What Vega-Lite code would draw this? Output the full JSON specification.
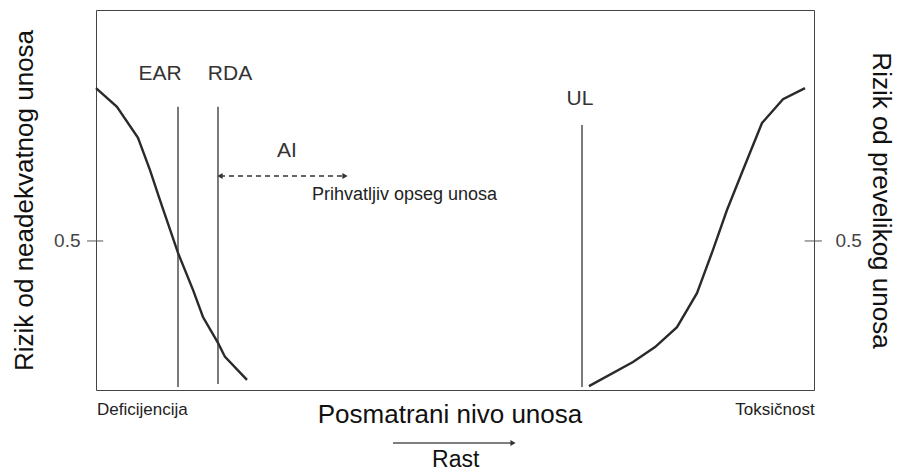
{
  "$schema": "https://vega.github.io/schema/vega-lite/v6.json",
  "width": 718,
  "height": 380,
  "autosize": {"type": "none"},
  "padding": {"left": 96, "top": 10, "right": 84, "bottom": 82},
  "background": "white",
  "config": {"view": {"stroke": "#444", "strokeWidth": 1}, "font": "Liberation Sans"},
  "datasets": {
    "deficit": [
      {"x": 0, "y": 1.013}, {"x": 2.92, "y": 0.95}, {"x": 5.85, "y": 0.846}, {"x": 7.52, "y": 0.738},
      {"x": 8.91, "y": 0.637}, {"x": 11.42, "y": 0.46}, {"x": 13.51, "y": 0.336}, {"x": 14.9, "y": 0.245},
      {"x": 16.99, "y": 0.158}, {"x": 17.97, "y": 0.111}, {"x": 21.03, "y": 0.034}
    ],
    "excess": [
      {"x": 68.66, "y": 0.013}, {"x": 74.79, "y": 0.094}, {"x": 77.86, "y": 0.144}, {"x": 80.92, "y": 0.211},
      {"x": 83.7, "y": 0.325}, {"x": 85.93, "y": 0.47}, {"x": 87.88, "y": 0.604}, {"x": 90.11, "y": 0.738},
      {"x": 92.76, "y": 0.896}, {"x": 95.68, "y": 0.976}, {"x": 98.75, "y": 1.013}
    ],
    "levels": [
      {"name": "EAR", "x": 11.42, "y0": 0.01, "y1": 0.95},
      {"name": "RDA", "x": 16.99, "y0": 0.02, "y1": 0.95},
      {"name": "UL", "x": 67.69, "y0": 0.01, "y1": 0.889}
    ],
    "ticks": [
      {"side": "left", "x0": -1.25, "x1": 1.0, "y": 0.5},
      {"side": "right", "x0": 98.7, "x1": 101.1, "y": 0.5}
    ],
    "arrows": [
      {"arrow": "AI", "x0": 17.27, "x1": 34.68, "y": 0.718},
      {"arrow": "Rast", "x0": 41.36, "x1": 58.08, "y": -0.178}
    ],
    "heads": [
      {"arrow": "AI", "x": 17.27, "y": 0.718, "dir": "triangle-left"},
      {"arrow": "AI", "x": 34.68, "y": 0.718, "dir": "triangle-right"},
      {"arrow": "Rast", "x": 58.08, "y": -0.178, "dir": "triangle-right"}
    ],
    "labels": [
      {"role": "marker", "label": "EAR", "x": 8.91, "y": 1.04},
      {"role": "marker", "label": "RDA", "x": 18.66, "y": 1.04},
      {"role": "marker", "label": "UL", "x": 67.41, "y": 0.956},
      {"role": "marker", "label": "AI", "x": 26.6, "y": 0.782},
      {"role": "note", "label": "Prihvatljiv opseg unosa", "x": 30.08, "y": 0.6375},
      {"role": "startend", "label": "Deficijencija", "x": 0.14, "y": -0.084},
      {"role": "endend", "label": "Toksičnost", "x": 100.1, "y": -0.084},
      {"role": "xtitle", "label": "Posmatrani nivo unosa", "x": 49.3, "y": -0.111},
      {"role": "rast", "label": "Rast", "x": 50.1, "y": -0.258}
    ]
  },
  "layer": [
    {
      "data": {"name": "deficit"},
      "mark": {"type": "line", "stroke": "#2a2a2a", "strokeWidth": 2.4},
      "encoding": {
        "x": {"field": "x", "type": "quantitative", "scale": {"domain": [0, 100], "nice": false, "zero": false}, "axis": null},
        "y": {"field": "y", "type": "quantitative", "scale": {"domain": [0, 1.275], "nice": false, "zero": false},
          "axis": {"orient": "left", "values": [0.5], "format": ".1f", "ticks": false, "domain": false, "grid": false,
            "labelPadding": 16, "labelFontSize": 19, "labelColor": "#444", "labelFont": "Liberation Sans",
            "title": "Rizik od neadekvatnog unosa", "titleFontSize": 26, "titleFontWeight": "normal", "titleColor": "#111",
            "titleFont": "Liberation Sans", "titlePadding": 16}}
      }
    },
    {
      "data": {"name": "excess"},
      "mark": {"type": "line", "stroke": "#2a2a2a", "strokeWidth": 2.4},
      "encoding": {
        "x": {"field": "x", "type": "quantitative", "scale": {"domain": [0, 100], "nice": false, "zero": false}, "axis": null},
        "y": {"field": "y", "type": "quantitative", "scale": {"domain": [0, 1.275], "nice": false, "zero": false},
          "axis": {"orient": "right", "values": [0.5], "format": ".1f", "ticks": false, "domain": false, "grid": false,
            "labelPadding": 21, "labelFontSize": 19, "labelColor": "#444", "labelFont": "Liberation Sans",
            "title": "Rizik od prevelikog unosa", "titleFontSize": 26, "titleFontWeight": "normal", "titleColor": "#111",
            "titleFont": "Liberation Sans", "titlePadding": 6}}
      }
    },
    {
      "data": {"name": "levels"},
      "mark": {"type": "rule", "stroke": "#333", "strokeWidth": 1.3},
      "encoding": {
        "x": {"field": "x", "type": "quantitative", "scale": {"domain": [0, 100], "nice": false, "zero": false}, "axis": null},
        "y": {"field": "y0", "type": "quantitative", "scale": {"domain": [0, 1.275], "nice": false, "zero": false}, "axis": null},
        "y2": {"field": "y1"}
      }
    },
    {
      "data": {"name": "ticks"},
      "mark": {"type": "rule", "stroke": "#555", "strokeWidth": 1},
      "encoding": {
        "x": {"field": "x0", "type": "quantitative", "scale": {"domain": [0, 100], "nice": false, "zero": false}, "axis": null},
        "x2": {"field": "x1"},
        "y": {"field": "y", "type": "quantitative", "scale": {"domain": [0, 1.275], "nice": false, "zero": false}, "axis": null}
      }
    },
    {
      "data": {"name": "arrows"},
      "transform": [{"filter": "datum.arrow === 'AI'"}],
      "mark": {"type": "rule", "stroke": "#333", "strokeWidth": 1.6, "strokeDash": [5, 4]},
      "encoding": {
        "x": {"field": "x0", "type": "quantitative", "scale": {"domain": [0, 100], "nice": false, "zero": false}, "axis": null},
        "x2": {"field": "x1"},
        "y": {"field": "y", "type": "quantitative", "scale": {"domain": [0, 1.275], "nice": false, "zero": false}, "axis": null}
      }
    },
    {
      "data": {"name": "arrows"},
      "transform": [{"filter": "datum.arrow === 'Rast'"}],
      "mark": {"type": "rule", "stroke": "#555", "strokeWidth": 1.6},
      "encoding": {
        "x": {"field": "x0", "type": "quantitative", "scale": {"domain": [0, 100], "nice": false, "zero": false}, "axis": null},
        "x2": {"field": "x1"},
        "y": {"field": "y", "type": "quantitative", "scale": {"domain": [0, 1.275], "nice": false, "zero": false}, "axis": null}
      }
    },
    {
      "data": {"name": "heads"},
      "mark": {"type": "point", "filled": true, "color": "#333", "size": 36, "opacity": 1},
      "encoding": {
        "x": {"field": "x", "type": "quantitative", "scale": {"domain": [0, 100], "nice": false, "zero": false}, "axis": null},
        "y": {"field": "y", "type": "quantitative", "scale": {"domain": [0, 1.275], "nice": false, "zero": false}, "axis": null},
        "shape": {"field": "dir", "type": "nominal", "scale": null, "legend": null}
      }
    },
    {
      "data": {"name": "labels"},
      "transform": [{"filter": "datum.role === 'marker'"}],
      "mark": {"type": "text", "fontSize": 21, "align": "center", "baseline": "alphabetic", "color": "#333"},
      "encoding": {
        "x": {"field": "x", "type": "quantitative", "scale": {"domain": [0, 100], "nice": false, "zero": false}, "axis": null},
        "y": {"field": "y", "type": "quantitative", "scale": {"domain": [0, 1.275], "nice": false, "zero": false}, "axis": null},
        "text": {"field": "label"}
      }
    },
    {
      "data": {"name": "labels"},
      "transform": [{"filter": "datum.role === 'note'"}],
      "mark": {"type": "text", "fontSize": 18, "align": "left", "baseline": "alphabetic", "color": "#222"},
      "encoding": {
        "x": {"field": "x", "type": "quantitative", "scale": {"domain": [0, 100], "nice": false, "zero": false}, "axis": null},
        "y": {"field": "y", "type": "quantitative", "scale": {"domain": [0, 1.275], "nice": false, "zero": false}, "axis": null},
        "text": {"field": "label"}
      }
    },
    {
      "data": {"name": "labels"},
      "transform": [{"filter": "datum.role === 'startend'"}],
      "mark": {"type": "text", "fontSize": 17, "align": "left", "baseline": "alphabetic", "color": "#222"},
      "encoding": {
        "x": {"field": "x", "type": "quantitative", "scale": {"domain": [0, 100], "nice": false, "zero": false}, "axis": null},
        "y": {"field": "y", "type": "quantitative", "scale": {"domain": [0, 1.275], "nice": false, "zero": false}, "axis": null},
        "text": {"field": "label"}
      }
    },
    {
      "data": {"name": "labels"},
      "transform": [{"filter": "datum.role === 'endend'"}],
      "mark": {"type": "text", "fontSize": 17, "align": "right", "baseline": "alphabetic", "color": "#222"},
      "encoding": {
        "x": {"field": "x", "type": "quantitative", "scale": {"domain": [0, 100], "nice": false, "zero": false}, "axis": null},
        "y": {"field": "y", "type": "quantitative", "scale": {"domain": [0, 1.275], "nice": false, "zero": false}, "axis": null},
        "text": {"field": "label"}
      }
    },
    {
      "data": {"name": "labels"},
      "transform": [{"filter": "datum.role === 'xtitle'"}],
      "mark": {"type": "text", "fontSize": 26, "align": "center", "baseline": "alphabetic", "color": "#111"},
      "encoding": {
        "x": {"field": "x", "type": "quantitative", "scale": {"domain": [0, 100], "nice": false, "zero": false}, "axis": null},
        "y": {"field": "y", "type": "quantitative", "scale": {"domain": [0, 1.275], "nice": false, "zero": false}, "axis": null},
        "text": {"field": "label"}
      }
    },
    {
      "data": {"name": "labels"},
      "transform": [{"filter": "datum.role === 'rast'"}],
      "mark": {"type": "text", "fontSize": 23, "align": "center", "baseline": "alphabetic", "color": "#111"},
      "encoding": {
        "x": {"field": "x", "type": "quantitative", "scale": {"domain": [0, 100], "nice": false, "zero": false}, "axis": null},
        "y": {"field": "y", "type": "quantitative", "scale": {"domain": [0, 1.275], "nice": false, "zero": false}, "axis": null},
        "text": {"field": "label"}
      }
    }
  ],
  "resolve": {"scale": {"y": "independent"}}
}
